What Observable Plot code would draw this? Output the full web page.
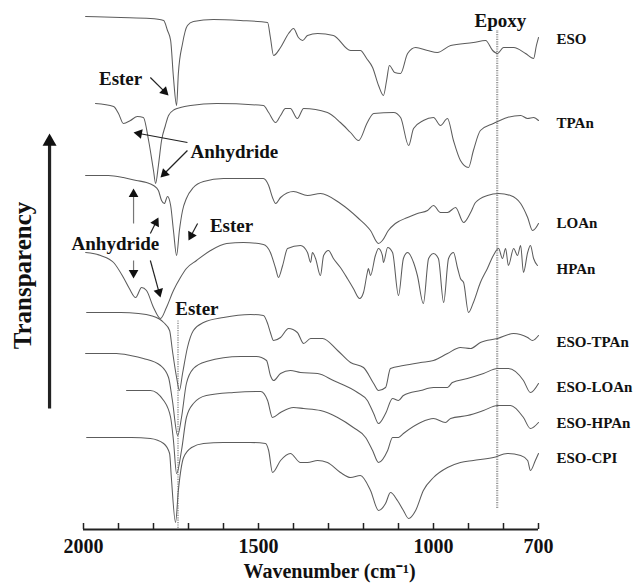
<!DOCTYPE html>
<html><head><meta charset="utf-8">
<script src="https://cdn.jsdelivr.net/npm/d3@7"></script>
<script src="https://cdn.jsdelivr.net/npm/@observablehq/plot@0.6"></script>
<style>body{margin:0;background:#fff}svg{overflow:visible}</style>
</head><body><div id="chart"></div>
<script>
// Spectra: [wavenumber (cm-1), offset transparency (a.u.)]
const ESO = [[1994,513],[1894,512],[1809,511],[1771,509],[1760,499],[1751,489],[1743,452],[1734,424],[1729,456],[1717,486],[1703,504],[1686,508],[1629,510],[1551,509],[1474,507],[1466,492],[1457,474],[1437,482],[1414,496],[1400,501],[1386,492],[1374,489],[1360,494],[1331,496],[1286,494],[1237,479],[1209,479],[1191,471],[1174,462],[1157,444],[1143,434],[1134,449],[1126,464],[1111,457],[1094,456],[1074,476],[1051,482],[1017,479],[989,477],[951,484],[886,487],[851,489],[831,479],[817,476],[800,482],[771,482],[737,476],[714,471],[706,484],[700,492]];
const TPAn = [[1966,426],[1914,423],[1900,416],[1886,406],[1866,409],[1846,413],[1829,412],[1814,389],[1800,359],[1794,346],[1786,364],[1777,389],[1766,404],[1757,414],[1740,420],[1723,422],[1694,424],[1620,426],[1486,424],[1471,417],[1451,407],[1437,414],[1423,421],[1409,421],[1389,411],[1371,421],[1303,417],[1266,407],[1237,397],[1214,389],[1189,407],[1171,416],[1114,417],[1094,412],[1071,384],[1057,401],[1029,409],[1000,412],[980,404],[960,411],[943,389],[923,369],[900,362],[886,379],[866,399],[829,406],[789,412],[751,414],[731,411],[714,412],[700,409]];
const LOAn = [[1994,354],[1929,354],[1886,352],[1849,349],[1820,347],[1800,344],[1786,339],[1777,329],[1769,326],[1760,333],[1751,324],[1743,299],[1734,274],[1726,299],[1717,319],[1706,331],[1686,342],[1657,348],[1600,351],[1486,351],[1471,344],[1460,332],[1451,326],[1437,332],[1400,338],[1360,334],[1323,336],[1266,326],[1217,312],[1180,299],[1157,286],[1146,289],[1129,299],[1109,306],[1074,312],[1046,316],[1017,319],[1000,324],[980,317],[960,317],[937,322],[914,307],[894,317],[880,327],[846,334],[814,336],[780,334],[751,326],[731,312],[717,299],[709,301],[700,306]];
const HPAn = [[1994,277],[1951,274],[1914,267],[1886,252],[1869,241],[1851,232],[1834,242],[1820,239],[1800,222],[1780,211],[1763,222],[1743,239],[1723,252],[1706,261],[1677,269],[1637,279],[1591,286],[1543,287],[1486,285],[1466,277],[1451,261],[1443,252],[1431,264],[1417,281],[1380,284],[1360,277],[1351,267],[1346,277],[1337,271],[1323,254],[1314,274],[1300,279],[1286,271],[1266,262],[1246,251],[1229,241],[1211,231],[1200,237],[1189,257],[1186,261],[1180,254],[1166,274],[1157,281],[1146,274],[1143,267],[1131,282],[1117,277],[1100,234],[1086,271],[1074,277],[1057,267],[1046,254],[1029,226],[1014,271],[1000,276],[986,271],[971,227],[957,271],[943,277],[931,261],[923,251],[914,247],[900,217],[886,227],[866,247],[846,261],[829,274],[814,281],[803,271],[794,281],[786,264],[771,281],[760,274],[751,284],[743,257],[731,277],[723,284],[714,271],[703,264]];
const ESO_TPAn = [[1991,217],[1894,217],[1843,216],[1809,214],[1771,207],[1754,199],[1746,179],[1734,152],[1726,139],[1717,156],[1703,182],[1686,199],[1657,207],[1600,212],[1523,215],[1486,214],[1474,206],[1466,197],[1457,189],[1437,192],[1414,201],[1389,197],[1371,186],[1351,191],[1317,191],[1274,179],[1237,167],[1200,162],[1171,146],[1157,139],[1137,142],[1123,161],[1086,164],[1037,167],[1000,169],[960,176],[923,182],[894,181],[866,187],[817,191],[771,196],[731,192],[717,189],[700,194]];
const ESO_LOAn = [[1994,176],[1906,176],[1866,174],[1829,171],[1780,164],[1757,152],[1746,129],[1731,94],[1720,112],[1706,146],[1686,161],[1649,168],[1551,173],[1506,173],[1477,169],[1466,154],[1457,149],[1437,156],[1409,159],[1380,157],[1331,156],[1286,149],[1217,137],[1189,129],[1171,116],[1157,106],[1137,116],[1117,131],[1100,129],[1086,134],[1037,139],[1000,142],[960,142],[946,147],[903,151],[857,156],[817,161],[786,161],[743,149],[723,137],[700,146]];
const ESO_HPAn = [[1877,139],[1809,139],[1771,129],[1751,112],[1743,89],[1734,56],[1720,79],[1706,112],[1686,126],[1649,134],[1571,137],[1494,138],[1474,129],[1460,112],[1437,117],[1400,122],[1371,121],[1323,119],[1274,112],[1229,102],[1194,92],[1174,79],[1157,67],[1131,79],[1117,92],[1100,92],[1086,96],[1037,107],[1000,111],[966,107],[951,111],[903,114],[857,119],[817,124],[780,124],[743,112],[723,101],[700,107]];
const ESO_CPI = [[1991,92],[1966,92],[1863,92],[1809,91],[1771,86],[1754,76],[1749,52],[1737,7],[1729,39],[1714,72],[1691,82],[1657,86],[1600,87],[1523,87],[1480,86],[1471,79],[1460,57],[1437,69],[1409,76],[1380,67],[1360,67],[1331,69],[1303,67],[1266,57],[1237,52],[1209,54],[1180,39],[1157,19],[1137,26],[1123,37],[1103,29],[1086,19],[1071,11],[1051,19],[1029,39],[1000,52],[960,62],[923,67],[886,69],[829,72],[789,76],[751,74],[731,69],[723,59],[709,69],[700,76]];

const seriesNames = ["ESO","TPAn","LOAn","HPAn","ESO-TPAn","ESO-LOAn","ESO-HPAn","ESO-CPI"];
const seriesData = [ESO, TPAn, LOAn, HPAn, ESO_TPAn, ESO_LOAn, ESO_HPAn, ESO_CPI];
const labelLevels = [490, 406, 306, 260, 187, 142, 106, 71];

const tickValues = [2000,1900,1800,1700,1600,1500,1400,1300,1200,1100,1000,900,800,700];
const tickLabels = [2000,1500,1000,700];

// annotations (data units)
const bandLines = [{w:818, v1:21, v2:499, kind:"epoxy"},{w:1730, v1:1, v2:209, kind:"ester"}];
const annotTexts = [
  {w:809, v:509, t:"Epoxy"},
  {w:1894, v:451, t:"Ester"},
  {w:1569, v:378, t:"Anhydride"},
  {w:1909, v:286, t:"Anhydride"},
  {w:1577, v:304, t:"Ester"},
  {w:1676, v:221, t:"Ester"}
];
const annotArrows = [
  {w1:1809, v1:452, w2:1757, v2:434, kind:"solid"},
  {w1:1703, v1:387, w2:1857, v2:397, kind:"dash"},
  {w1:1703, v1:379, w2:1780, v2:352, kind:"solid"},
  {w1:1857, v1:306, w2:1857, v2:341, kind:"dot"},
  {w1:1857, v1:269, w2:1857, v2:251, kind:"dot"},
  {w1:1809, v1:296, w2:1786, v2:312, kind:"dash"},
  {w1:1809, v1:269, w2:1780, v2:232, kind:"dash"},
  {w1:1674, v1:306, w2:1700, v2:289, kind:"solid"}
];
const yArrow = {w1:2097, v1:121, w2:2097, v2:396};

const W = 636, H = 584, ML = 83, MR = 98, MT = 0, MB = 55;
const XK = (W - ML - MR) / (2000 - 700);
const YK = (H - MT - MB) / 529;

function headOf(a, r) {
  const dxp = -(a.w2 - a.w1) * XK, dyp = -(a.v2 - a.v1) * YK;
  const len = Math.hypot(dxp, dyp);
  const ux = dxp / len, uy = dyp / len;
  const back = 1.555 * r;
  return {x: a.w2 + ux * back / XK, y: a.v2 + uy * back / YK, angle: Math.atan2(ux, -uy) * 180 / Math.PI, x1: a.w1, y1: a.v1, kind: a.kind};
}
const heads = annotArrows.map(a => headOf(a, 3.6));
const bigHead = headOf(yArrow, 5.2);

const rows = [];
seriesNames.forEach((n, i) => seriesData[i].forEach(([w, v]) => rows.push({name: n, w, v})));
const labels = seriesNames.map((n, i) => ({name: n, v: labelLevels[i]}));

const dashOf = k => k === "dash" ? "4,2" : k === "dot" ? "1.5,1.5" : null;
const colOf = k => k === "dot" ? "#777" : "#222";

const bold = {fontWeight: "bold", fill: "#111"};

const plot = Plot.plot({
  width: W, height: H, marginLeft: ML, marginRight: MR, marginTop: MT, marginBottom: MB,
  x: {domain: [2000, 700], axis: null},
  y: {domain: [0, 529], axis: null},
  style: {fontFamily: "'Liberation Serif','Times New Roman',serif", background: "#fff", overflow: "visible"},
  marks: [
    Plot.ruleX(bandLines, {x: "w", y1: "v1", y2: "v2", stroke: "#9a9a9a", strokeWidth: d => d.kind === "epoxy" ? 2.2 : 1.6, strokeDasharray: "1.2,1.2"}),
    Plot.line(rows, {x: "w", y: "v", z: "name", stroke: "#5c5c5c", strokeWidth: 1.05, curve: "monotone-x"}),
    Plot.text(labels, {x: 700, y: "v", text: "name", textAnchor: "start", dx: 18, fontSize: 15, ...bold}),
    Plot.ruleY([0], {stroke: "#222", strokeWidth: 2.2}),
    Plot.ruleX(tickValues, {x: d => d, y1: 0, y2: 6, stroke: "#222", strokeWidth: 1.5}),
    Plot.text(tickLabels, {x: d => d, y: 0, dy: 17, text: d => String(d), fontSize: 20, ...bold}),
    Plot.text(["Wavenumber (cm\u207B\u00B9)"], {x: 1297, y: 0, dy: 42, text: d => d, fontSize: 20, ...bold}),
    Plot.text(["Transparency"], {x: 2174, y: 254, text: d => d, rotate: -90, fontSize: 25, ...bold}),
    Plot.text(annotTexts, {x: "w", y: "v", text: "t", fontSize: 19, ...bold}),
    Plot.link(heads, {x1: "x1", y1: "y1", x2: "x", y2: "y", stroke: d => colOf(d.kind), strokeWidth: 1.2, strokeDasharray: d => dashOf(d.kind)}),
    Plot.dot(heads, {x: "x", y: "y", symbol: "triangle", r: 3.6, fill: "#111", stroke: "none", rotate: "angle"}),
    Plot.link([bigHead], {x1: "x1", y1: "y1", x2: "x", y2: "y", stroke: "#222", strokeWidth: 3.2}),
    Plot.dot([bigHead], {x: "x", y: "y", symbol: "triangle", r: 5.2, fill: "#111", stroke: "none", rotate: "angle"})
  ]
});
document.getElementById("chart").appendChild(plot);
</script>
</body></html>
